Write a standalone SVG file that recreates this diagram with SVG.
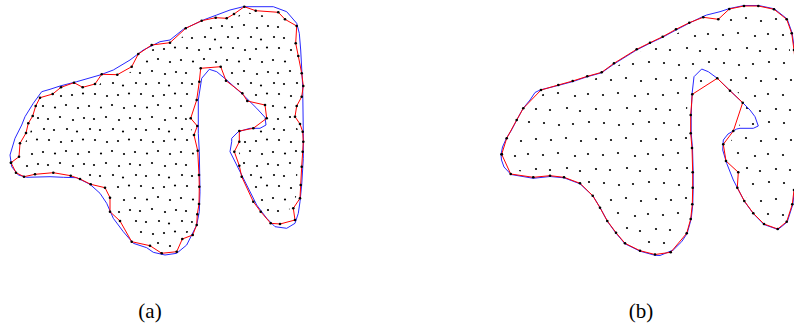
<svg xmlns="http://www.w3.org/2000/svg" width="794" height="327" viewBox="0 0 794 327">
<style>
.fillA{fill:url(#dotsA);stroke:none}
.fillB{fill:url(#dotsB);stroke:none}
.clear{fill:none;stroke:#fff;stroke-width:8;stroke-linejoin:round}
.blue{fill:none;stroke:#2828ff;stroke-width:1;stroke-linejoin:round}
.red{fill:none;stroke:#ff0000;stroke-width:1;stroke-linejoin:round;marker-start:url(#vd);marker-mid:url(#vd);marker-end:url(#vd)}
.lbl{font-size:21px;fill:#000;text-anchor:middle}
</style>
<defs>
<marker id="vd" markerUnits="userSpaceOnUse" markerWidth="4" markerHeight="4" refX="2" refY="2" viewBox="0 0 4 4"><circle cx="2" cy="2" r="1.3" fill="#000"/></marker>
<pattern id="dotsA" patternUnits="userSpaceOnUse" width="46" height="46">
<g fill="#000">
<circle cx="3" cy="2" r="1.1"/><circle cx="15" cy="4" r="1.1"/><circle cx="26" cy="3" r="1.1"/><circle cx="37" cy="1.5" r="1.1"/>
<circle cx="9" cy="15.5" r="1.1"/><circle cx="20" cy="13" r="1.1"/><circle cx="32" cy="16" r="1.1"/><circle cx="43" cy="14" r="1.1"/>
<circle cx="2" cy="27" r="1.1"/><circle cx="14" cy="25" r="1.1"/><circle cx="27" cy="28" r="1.1"/><circle cx="38" cy="26" r="1.1"/>
<circle cx="8" cy="38" r="1.1"/><circle cx="21" cy="37" r="1.1"/><circle cx="31" cy="39.5" r="1.1"/><circle cx="44" cy="37" r="1.1"/>
</g>
</pattern>
<pattern id="dotsB" patternUnits="userSpaceOnUse" width="60" height="60">
<g fill="#000">
<circle cx="4" cy="3" r="1.1"/><circle cx="19" cy="5" r="1.1"/><circle cx="33" cy="4" r="1.1"/><circle cx="49" cy="2" r="1.1"/>
<circle cx="11" cy="20" r="1.1"/><circle cx="26" cy="18" r="1.1"/><circle cx="41" cy="21" r="1.1"/><circle cx="56" cy="19" r="1.1"/>
<circle cx="3" cy="35" r="1.1"/><circle cx="18" cy="33" r="1.1"/><circle cx="35" cy="36" r="1.1"/><circle cx="48" cy="34" r="1.1"/>
<circle cx="10" cy="50" r="1.1"/><circle cx="27" cy="48" r="1.1"/><circle cx="40" cy="51" r="1.1"/><circle cx="56" cy="49" r="1.1"/>
</g>
</pattern>
</defs>

<g id="panel-a">
<polygon id="a-interior" class="fillA" points="11,162.7 19,156.7 20,143.3 26,133 28.3,123.3 32.7,116 35.7,106 40,97.7 52.7,94 61,87.3 74,82.7 82.7,87.3 95,84 101.7,74.3 117.3,74.7 131.7,66.7 138.3,54 151.7,45 170,42.7 185.7,28.3 201.7,20.7 215.7,17.7 226.7,18.3 234,14 244.3,6.7 255.7,10.7 278.3,12.3 285,19.3 296.7,26 295.7,43.3 298.3,56 301.7,73.3 303.3,86 301.7,96.7 296.7,106 295,116.7 300,124 302.7,131.7 303.3,141.7 302.7,151.7 301.7,166.7 300.7,185 300,198.3 293.3,208.3 295,220 280,224 270.7,223.3 260.7,211.7 253.3,201.7 241.7,176.7 239.3,165.7 234.3,151.7 239.3,141.7 239.3,131 253.3,128.3 266.7,118.3 265,105 247.3,101 242.3,93.3 226,80.7 220.7,66.7 200.7,68.3 199.3,81.7 196.7,100 190.7,118.3 197.3,126 194,135 197.7,150.7 199,175 199.3,186.7 199,204 197.3,214.3 196.7,225 192.7,235 182.3,239 176.7,251.7 161.7,253.3 150,245.7 131.7,241.7 120,221 110,211.7 110,197.7 105,187.7 90.7,184.3 80,179 70.7,175.7 53.3,172.7 35,174.3 24,176.7 16,172.7"/>
<polygon class="clear" points="11,162.7 19,156.7 20,143.3 26,133 28.3,123.3 32.7,116 35.7,106 40,97.7 52.7,94 61,87.3 74,82.7 82.7,87.3 95,84 101.7,74.3 117.3,74.7 131.7,66.7 138.3,54 151.7,45 170,42.7 185.7,28.3 201.7,20.7 215.7,17.7 226.7,18.3 234,14 244.3,6.7 255.7,10.7 278.3,12.3 285,19.3 296.7,26 295.7,43.3 298.3,56 301.7,73.3 303.3,86 301.7,96.7 296.7,106 295,116.7 300,124 302.7,131.7 303.3,141.7 302.7,151.7 301.7,166.7 300.7,185 300,198.3 293.3,208.3 295,220 280,224 270.7,223.3 260.7,211.7 253.3,201.7 241.7,176.7 239.3,165.7 234.3,151.7 239.3,141.7 239.3,131 253.3,128.3 266.7,118.3 265,105 247.3,101 242.3,93.3 226,80.7 220.7,66.7 200.7,68.3 199.3,81.7 196.7,100 190.7,118.3 197.3,126 194,135 197.7,150.7 199,175 199.3,186.7 199,204 197.3,214.3 196.7,225 192.7,235 182.3,239 176.7,251.7 161.7,253.3 150,245.7 131.7,241.7 120,221 110,211.7 110,197.7 105,187.7 90.7,184.3 80,179 70.7,175.7 53.3,172.7 35,174.3 24,176.7 16,172.7"/>
<polygon id="a-blue" class="blue" points="10,155 15,138.3 21.7,125 25,116.7 33.3,103.3 41.7,91.7 50,89.3 60,86 76.7,81.7 100,75 113.3,70 130,60 143.3,50 160,41.7 170,40 183.3,29.3 203.3,20 216.7,15 230,10 243.3,6.7 273.3,6.7 286.7,11.7 296.7,23.3 299.3,33.3 300.7,50 302.7,86.7 303.3,133.3 303.3,158.3 301.7,185 300,201.7 298.3,213.3 295,223.3 286.7,228.3 275,226.7 266.7,218.3 256.7,205 246.7,185 236.7,165 230,151.7 231.7,141.7 231.7,138.3 238.3,131.7 250,128.3 260,128.3 266,125 265,117.3 256.7,108.3 243.3,95 226.7,80 216.7,71.7 209.3,69.3 201.7,78.3 198.3,100 198.3,133.3 199.3,151.7 200,191.7 199.3,211.7 196.7,225 191.7,235 186.7,245 176.7,253.3 165,255 153.3,252.3 146.7,247.7 133.3,243.3 123.3,231.7 113.3,218.3 106.7,203.3 100,193.3 90,184.3 76.7,177.7 63.3,177.3 50,176.7 26.7,177.3 18.3,175 11.7,166.7"/>
<polygon id="a-red" class="red" points="11,162.7 19,156.7 20,143.3 26,133 28.3,123.3 32.7,116 35.7,106 40,97.7 52.7,94 61,87.3 74,82.7 82.7,87.3 95,84 101.7,74.3 117.3,74.7 131.7,66.7 138.3,54 151.7,45 170,42.7 185.7,28.3 201.7,20.7 215.7,17.7 226.7,18.3 234,14 244.3,6.7 255.7,10.7 278.3,12.3 285,19.3 296.7,26 295.7,43.3 298.3,56 301.7,73.3 303.3,86 301.7,96.7 296.7,106 295,116.7 300,124 302.7,131.7 303.3,141.7 302.7,151.7 301.7,166.7 300.7,185 300,198.3 293.3,208.3 295,220 280,224 270.7,223.3 260.7,211.7 253.3,201.7 241.7,176.7 239.3,165.7 234.3,151.7 239.3,141.7 239.3,131 253.3,128.3 266.7,118.3 265,105 247.3,101 242.3,93.3 226,80.7 220.7,66.7 200.7,68.3 199.3,81.7 196.7,100 190.7,118.3 197.3,126 194,135 197.7,150.7 199,175 199.3,186.7 199,204 197.3,214.3 196.7,225 192.7,235 182.3,239 176.7,251.7 161.7,253.3 150,245.7 131.7,241.7 120,221 110,211.7 110,197.7 105,187.7 90.7,184.3 80,179 70.7,175.7 53.3,172.7 35,174.3 24,176.7 16,172.7"/>
</g>

<g id="panel-b">
<polygon id="b-interior" class="fillB" points="501.7,154.3 506.7,138.3 516.7,120 523.3,108.3 541,90 558.3,85 572.7,81 587.3,76.3 601.7,72.3 614,63.3 636.7,49.3 650,42.7 662.7,36.7 676,29.3 689.3,22.7 703.3,17.3 718.3,19.3 729.3,9 744,6 758.3,6 774,9.3 786.7,19.3 791.7,33.3 794,50 797,80 797,185 794,190 792.3,204.3 786.7,221.7 777.7,229 764,224 753.3,213.3 744.3,201 737.3,187.7 738.3,172.3 726,161 723.3,144.3 733.3,131 742.7,102.7 730,90.7 717.3,78.3 692.3,94.3 690.7,115 690.7,133.3 692,148 692.7,172.3 692.7,187.7 692.3,204.3 690.7,219 686.7,233.3 670.7,252.3 655,254.5 640,250.7 625,243.3 616,232.7 607.3,221 600,207.7 592.7,195.7 580,183.3 564,177.3 550,175.7 533.3,177.3 510.7,174"/>
<polygon class="clear" points="501.7,154.3 506.7,138.3 516.7,120 523.3,108.3 541,90 558.3,85 572.7,81 587.3,76.3 601.7,72.3 614,63.3 636.7,49.3 650,42.7 662.7,36.7 676,29.3 689.3,22.7 703.3,17.3 718.3,19.3 729.3,9 744,6 758.3,6 774,9.3 786.7,19.3 791.7,33.3 794,50 797,80 797,185 794,190 792.3,204.3 786.7,221.7 777.7,229 764,224 753.3,213.3 744.3,201 737.3,187.7 738.3,172.3 726,161 723.3,144.3 733.3,131 742.7,102.7 730,90.7 717.3,78.3 692.3,94.3 690.7,115 690.7,133.3 692,148 692.7,172.3 692.7,187.7 692.3,204.3 690.7,219 686.7,233.3 670.7,252.3 655,254.5 640,250.7 625,243.3 616,232.7 607.3,221 600,207.7 592.7,195.7 580,183.3 564,177.3 550,175.7 533.3,177.3 510.7,174"/>
<polygon id="b-blue" class="blue" points="501,154.5 502.5,147 506.5,138 511,131 516.5,120.5 523,108.5 530,100 535,92.5 540,90 558,85.5 573,81.5 587,76.8 601.5,72.8 614.3,63.8 636.5,50 650,43.2 662.7,37.2 676,30 689.5,23 703,16.5 706.7,15 720,11.7 729.5,8.5 744,5.5 758.5,5.5 774.3,8.8 787.2,19 792.2,33.2 794.5,50 797,80 797,185 794.5,190 792.8,204.5 787.2,222 778,229.5 764,224.5 753.5,213.8 744.5,201.5 737.3,187.7 733.3,180 726.7,163.3 722.7,150 723.3,140 728,134 736.7,129 740,128.3 753.3,128.3 758.3,126 755,116.7 750,110 742.7,102.7 730,90.7 717.3,78.3 708.3,71.7 701.7,69 694,76.7 692,94.3 691.2,115 691.2,133.3 692.5,148 693.2,172.3 693.2,187.7 692.8,204.3 691.2,219 687.2,233.3 681.7,241.7 673.3,250 660,255.5 655,255.3 640,251.2 625,243.8 616,233.2 607.5,221.5 600.3,208 593,196 580,183.8 564,177.8 550,176.5 533.3,178.3 511,174.5 504,167 501.5,160"/>
<polygon id="b-red" class="red" points="501.7,154.3 506.7,138.3 516.7,120 523.3,108.3 541,90 558.3,85 572.7,81 587.3,76.3 601.7,72.3 614,63.3 636.7,49.3 650,42.7 662.7,36.7 676,29.3 689.3,22.7 703.3,17.3 718.3,19.3 729.3,9 744,6 758.3,6 774,9.3 786.7,19.3 791.7,33.3 794,50 797,80 797,185 794,190 792.3,204.3 786.7,221.7 777.7,229 764,224 753.3,213.3 744.3,201 737.3,187.7 738.3,172.3 726,161 723.3,144.3 733.3,131 742.7,102.7 730,90.7 717.3,78.3 692.3,94.3 690.7,115 690.7,133.3 692,148 692.7,172.3 692.7,187.7 692.3,204.3 690.7,219 686.7,233.3 670.7,252.3 655,254.5 640,250.7 625,243.3 616,232.7 607.3,221 600,207.7 592.7,195.7 580,183.3 564,177.3 550,175.7 533.3,177.3 510.7,174"/>
</g>

<g id="labels" font-family="'Liberation Serif', 'DejaVu Serif', serif">
<text class="lbl" x="150" y="318">(a)</text>
<text class="lbl" x="641" y="318">(b)</text>
</g>
</svg>
